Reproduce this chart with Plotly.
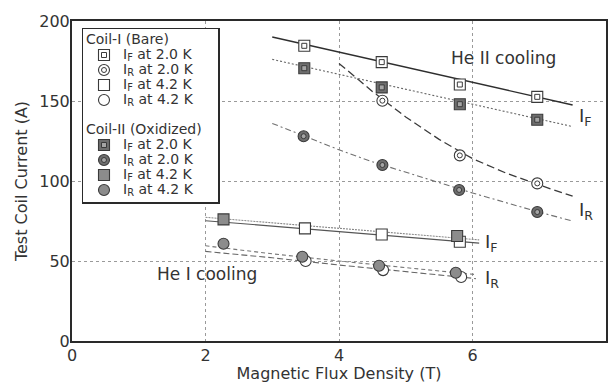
import plotly.graph_objects as go

# ---------------- data ----------------
# Coil-I (Bare)
B_I_IF20 = [3.48, 4.64, 5.81, 6.97]
I_I_IF20 = [184.5, 174.3, 160.3, 152.6]
B_I_IR20 = [4.65, 5.81, 6.97]
I_I_IR20 = [150.2, 116.0, 98.5]
B_I_IF42 = [3.49, 4.64, 5.81]
I_I_IF42 = [70.4, 66.6, 62.0]
B_I_IR42 = [3.50, 4.66, 5.83]
I_I_IR42 = [50.0, 44.3, 40.0]
# Coil-II (Oxidized)
B_II_IF20 = [3.48, 4.64, 5.81, 6.97]
I_II_IF20 = [170.5, 158.5, 148.0, 138.3]
B_II_IR20 = [3.47, 4.65, 5.80, 6.97]
I_II_IR20 = [128.0, 110.0, 94.4, 80.6]
B_II_IF42 = [2.27, 5.77]
I_II_IF42 = [76.0, 65.6]
B_II_IR42 = [2.27, 3.45, 4.60, 5.75]
I_II_IR42 = [60.8, 52.7, 47.0, 42.7]

# fitted curves as drawn in the reference
FIT_B_I_IF20 = [3.0, 7.5]
FIT_I_I_IF20 = [190.0, 147.5]
FIT_B_II_IF20 = [3.0, 7.5]
FIT_I_II_IF20 = [176.0, 134.0]
FIT_B_I_IR20 = [4.0, 4.5, 5.0, 5.5, 6.0, 6.5, 7.0, 7.5]
FIT_I_I_IR20 = [173.5, 156.0, 140.0, 126.0, 114.0, 105.0, 97.5, 90.5]
FIT_B_II_IR20 = [3.0, 3.5, 4.0, 4.5, 5.0, 5.5, 6.0, 6.5, 7.0, 7.5]
FIT_I_II_IR20 = [136.0, 127.5, 119.5, 112.0, 105.5, 99.0, 92.5, 86.5, 80.5, 75.0]
FIT_B_I_IF42 = [2.0, 6.1]
FIT_I_I_IF42 = [75.2, 61.2]
FIT_B_II_IF42 = [2.0, 6.1]
FIT_I_II_IF42 = [77.3, 63.2]
FIT_B_I_IR42 = [2.0, 3.0, 4.0, 5.0, 6.05]
FIT_I_I_IR42 = [56.0, 52.0, 47.5, 43.5, 39.0]
FIT_B_II_IR42 = [2.0, 3.0, 4.0, 5.0, 6.05]
FIT_I_II_IR42 = [59.5, 54.5, 50.0, 46.0, 41.5]

X_TICKS = [0, 2, 4, 6, 8]
Y_TICKS = [0, 50, 100, 150, 200]
LEGEND_GROUPS = ["Coil-I (Bare)", "Coil-II (Oxidized)"]
LEGEND_LABELS = ["I<sub>F</sub> at 2.0 K", "I<sub>R</sub> at 2.0 K",
                 "I<sub>F</sub> at 4.2 K", "I<sub>R</sub> at 4.2 K"]

FONT = "DejaVu Sans"
TXT = "#333333"

# ---------------- styles ----------------
WHITE, DARK, MID = "#ffffff", "#6e6e6e", "#8c8c8c"
EDGE = "#3a3a3a"
series = [
    # group 0 : Coil-I
    dict(b=B_I_IF20, i=I_I_IF20, fb=FIT_B_I_IF20, fi=FIT_I_I_IF20, sym="square", fill=WHITE,
         inner="square-open", innerfill=EDGE, lc="#2e2e2e", lw=1.4, dash="solid"),
    dict(b=B_I_IR20, i=I_I_IR20, fb=FIT_B_I_IR20, fi=FIT_I_I_IR20, sym="circle", fill=WHITE,
         inner="circle-open", innerfill=EDGE, lc="#3a3a3a", lw=1.3, dash="8px,4px"),
    dict(b=B_I_IF42, i=I_I_IF42, fb=FIT_B_I_IF42, fi=FIT_I_I_IF42, sym="square", fill=WHITE,
         inner=None, innerfill=None, lc="#555555", lw=1.1, dash="solid"),
    dict(b=B_I_IR42, i=I_I_IR42, fb=FIT_B_I_IR42, fi=FIT_I_I_IR42, sym="circle", fill=WHITE,
         inner=None, innerfill=None, lc="#666666", lw=1.1, dash="6px,3px"),
    # group 1 : Coil-II
    dict(b=B_II_IF20, i=I_II_IF20, fb=FIT_B_II_IF20, fi=FIT_I_II_IF20, sym="square", fill=DARK,
         inner="square", innerfill="#a5a5a5", lc="#666666", lw=1.1, dash="2px,2px"),
    dict(b=B_II_IR20, i=I_II_IR20, fb=FIT_B_II_IR20, fi=FIT_I_II_IR20, sym="circle", fill=DARK,
         inner="circle", innerfill="#a5a5a5", lc="#707070", lw=1.1, dash="6px,3px,2px,3px"),
    dict(b=B_II_IF42, i=I_II_IF42, fb=FIT_B_II_IF42, fi=FIT_I_II_IF42, sym="square", fill=MID,
         inner=None, innerfill=None, lc="#888888", lw=1.1, dash="2px,1px"),
    dict(b=B_II_IR42, i=I_II_IR42, fb=FIT_B_II_IR42, fi=FIT_I_II_IR42, sym="circle", fill=MID,
         inner=None, innerfill=None, lc="#777777", lw=1.1, dash="4px,3px"),
]

MSIZE, ISIZE = 11, 5

fig = go.Figure()

# fitted lines
for s in series:
    fig.add_trace(go.Scatter(x=s["fb"], y=s["fi"], mode="lines",
                             line=dict(color=s["lc"], width=s["lw"], dash=s["dash"]),
                             hoverinfo="skip", xaxis="x", yaxis="y"))


def add_markers(xs, ys, s, xa, ya):
    fig.add_trace(go.Scatter(x=xs, y=ys, mode="markers", cliponaxis=False,
                             marker=dict(symbol=s["sym"], size=MSIZE, color=s["fill"],
                                         line=dict(color=EDGE, width=1.1)),
                             xaxis=xa, yaxis=ya))
    if s["inner"]:
        fig.add_trace(go.Scatter(x=xs, y=ys, mode="markers", cliponaxis=False,
                                 marker=dict(symbol=s["inner"], size=ISIZE, color=s["innerfill"],
                                             line=dict(color=EDGE, width=1)),
                                 xaxis=xa, yaxis=ya))


# markers (Coil-I first, Coil-II on top)
for s in series:
    add_markers(s["b"], s["i"], s, "x", "y")

# ---------------- legend box (inset subplot) ----------------
ROWS_PER_GROUP = len(LEGEND_LABELS) + 2
title_rows = [g * ROWS_PER_GROUP for g in range(len(LEGEND_GROUPS))]
fig.add_trace(go.Scatter(x=[3] * len(LEGEND_GROUPS), y=title_rows, mode="text",
                         text=LEGEND_GROUPS, textposition="middle right", cliponaxis=False,
                         textfont=dict(family=FONT, size=14, color=TXT),
                         xaxis="x2", yaxis="y2"))
for g in range(len(LEGEND_GROUPS)):
    rows = [g * ROWS_PER_GROUP + 1 + k for k in range(len(LEGEND_LABELS))]
    fig.add_trace(go.Scatter(x=[40] * len(rows), y=rows, mode="text",
                             text=LEGEND_LABELS, textposition="middle right", cliponaxis=False,
                             textfont=dict(family=FONT, size=14, color=TXT),
                             xaxis="x2", yaxis="y2"))
    for k, r in enumerate(rows):
        add_markers([21], [r], series[g * len(LEGEND_LABELS) + k], "x2", "y2")

# ---------------- annotations ----------------
ann = [
    dict(x=6.46, y=177, text="He II cooling", size=17, xanchor="center"),
    dict(x=2.02, y=42, text="He I cooling", size=17, xanchor="center"),
    dict(x=7.57, y=140, text="I<sub>F</sub>", size=18, xanchor="left"),
    dict(x=7.57, y=81, text="I<sub>R</sub>", size=18, xanchor="left"),
    dict(x=6.15, y=61, text="I<sub>F</sub>", size=18, xanchor="left"),
    dict(x=6.15, y=39, text="I<sub>R</sub>", size=18, xanchor="left"),
]
annotations = [dict(x=a["x"], y=a["y"], xref="x", yref="y", text=a["text"], showarrow=False,
                    xanchor=a["xanchor"], yanchor="middle",
                    font=dict(family=FONT, size=a["size"], color=TXT)) for a in ann]

W, H = 608, 383
L, R, T, B = 72, 2, 21, 42
pw, ph = W - L - R, H - T - B
box_left, box_right, box_top, box_bot = 83, 218, 29, 202
row0_px, row_step = 40, 15

axis_common = dict(showline=True, mirror=True, linecolor="#2a2a2a", linewidth=2,
                   zeroline=False, ticks="", showgrid=True, gridcolor="#9a9a9a",
                   gridwidth=1, griddash="3px,3px",
                   tickfont=dict(family=FONT, size=16, color=TXT))

fig.update_layout(
    width=W, height=H,
    margin=dict(l=L, r=R, t=T, b=B, autoexpand=False),
    paper_bgcolor="white", plot_bgcolor="white",
    showlegend=False,
    font=dict(family=FONT, color=TXT),
    xaxis=dict(range=[0, 8], tickvals=X_TICKS, domain=[0, 1], anchor="y",
               ticklabelstandoff=-1,
               title=dict(text="Magnetic Flux Density (T)", standoff=6,
                          font=dict(family=FONT, size=16, color=TXT)),
               **axis_common),
    yaxis=dict(range=[0, 200], tickvals=Y_TICKS, domain=[0, 1], anchor="x",
               ticklabelstandoff=-3,
               title=dict(text="Test Coil Current (A)", standoff=8,
                          font=dict(family=FONT, size=16, color=TXT)),
               **axis_common),
    xaxis2=dict(domain=[(box_left - L) / pw, (box_right - L) / pw], anchor="y2",
                range=[0, box_right - box_left], showline=True, mirror=True,
                linecolor="#2a2a2a", linewidth=1.5, showgrid=False, zeroline=False,
                showticklabels=False, ticks="", fixedrange=True),
    yaxis2=dict(domain=[(H - B - box_bot) / ph, (H - B - box_top) / ph], anchor="x2",
                range=[(box_bot - row0_px) / row_step, (box_top - row0_px) / row_step],
                showline=True, mirror=True, linecolor="#2a2a2a", linewidth=1.5,
                showgrid=False, zeroline=False, showticklabels=False, ticks="",
                fixedrange=True),
    annotations=annotations,
)

fig.write_html("out.html", config={"displayModeBar": False, "staticPlot": True},
               post_script="document.body.style.margin='0px';document.body.style.overflow='hidden';")
